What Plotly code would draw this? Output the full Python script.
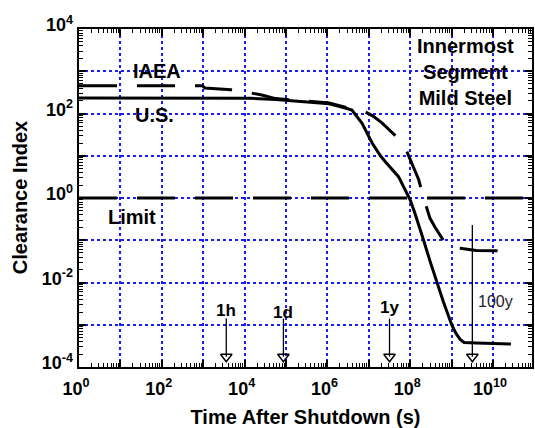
import numpy as np
import plotly.graph_objects as go

# ---------------- data ----------------
us_t = [1, 1.3e4, 5.6e4, 3.5e5, 1.1e6, 2.7e6, 3.9e6, 6.8e6, 1.2e7, 1.9e7, 2.5e7,
        5.2e7, 7.6e7, 1.0e8, 1.26e8, 1.6e8, 2.1e8, 3.0e8, 4.4e8, 6.3e8, 1.0e9,
        1.26e9, 1.6e9, 2.0e9, 4.0e9, 2.7e10]
us_v = [233, 229, 214, 190, 170, 135, 120, 59, 20, 10, 7.2,
        3.2, 1.55, 0.89, 0.47, 0.24, 0.10, 0.032, 0.010, 0.0035, 1.0e-3,
        6.3e-4, 4.5e-4, 3.8e-4, 3.7e-4, 3.5e-4]

iaea_t = [1, 9.5e2, 1.1e3, 4.7e3, 1.0e4, 2.6e4, 5.6e4, 3.5e5, 1.1e6, 2.7e6, 4.0e6,
          5.6e6, 8.1e6, 1.26e7, 2.1e7, 3.5e7, 5.8e7, 7.9e7, 1.0e8, 1.26e8, 1.6e8,
          2.1e8, 3.0e8, 4.0e8, 5.2e8, 7.1e8, 8.3e8, 1.1e9, 1.6e9, 3.9e9, 2.7e10]
iaea_v = [455, 455, 400, 365, 325, 275, 225, 197, 178, 141, 132,
          123, 110, 87, 59, 37, 23, 14, 7.9, 4.7, 2.7,
          1.0, 0.33, 0.20, 0.13, 0.083, 0.071, 0.066, 0.065, 0.057, 0.056]

limit_t = [1, 8.7e10]
limit_v = [1, 1]

event_labels = ["1h", "1d", "1y", "100y"]
event_t = [3600, 86400, 3.156e7, 3.156e9]
event_top = [1.4e-3, 1.4e-3, 1.4e-3, 0.23]
event_bottom = 1.75e-4

x_decades = list(range(0, 11))
y_decades = list(range(-4, 5))
x_label_decades = [k for k in x_decades if k % 2 == 0]
y_label_decades = [k for k in y_decades if k % 2 == 0]

FONT = "Liberation Sans, Arial, sans-serif"
GRID = "#1a1aff"
XR = [0, 10.94]
YR = [-4, 4]

fig = go.Figure()

fig.add_trace(go.Scatter(x=limit_t, y=limit_v, mode="lines",
                         line=dict(color="black", width=3, dash="38px,20px")))
fig.add_trace(go.Scatter(x=iaea_t, y=iaea_v, mode="lines",
                         line=dict(color="black", width=3, dash="38px,20px")))
fig.add_trace(go.Scatter(x=us_t, y=us_v, mode="lines",
                         line=dict(color="black", width=3)))

for lab, t, top in zip(event_labels, event_t, event_top):
    fig.add_trace(go.Scatter(x=[t, t], y=[top, event_bottom], mode="lines",
                             line=dict(color="black", width=1.3)))
    fig.add_trace(go.Scatter(x=[t], y=[event_bottom], mode="markers",
                             marker=dict(symbol="triangle-down-open", size=10,
                                         color="black", line=dict(width=1.5))))

# invisible trace that carries the labelled (overlay) axes
fig.add_trace(go.Scatter(x=[10], y=[1], xaxis="x2", yaxis="y2", mode="markers",
                         marker=dict(opacity=0), hoverinfo="skip"))

# event labels
lab_y = {"1h": -2.67, "1d": -2.72, "1y": -2.60}
for lab, t in zip(event_labels, event_t):
    if lab == "100y":
        fig.add_annotation(x=9.59, y=-2.46, text=lab, showarrow=False, xanchor="left",
                           font=dict(family=FONT, size=16, color="#222"))
    else:
        fig.add_annotation(x=np.log10(t), y=lab_y[lab], text=lab, showarrow=False,
                           font=dict(family=FONT, size=17, color="black", weight="bold"))

# series labels
for txt, lx, ly in [("IAEA", 1.875, 3.0), ("U.S.", 1.83, 1.96), ("Limit", 1.27, -0.45)]:
    fig.add_annotation(x=lx, y=ly, text=txt, showarrow=False,
                       font=dict(family=FONT, size=20, color="black", weight="bold"))
fig.add_annotation(x=9.33, y=2.98, text="Innermost<br>Segment<br>Mild Steel", showarrow=False,
                   align="center", font=dict(family=FONT, size=20, color="black", weight="bold"))

titlefont = dict(family=FONT, size=20, color="black", weight="bold")
fig.add_annotation(xref="paper", yref="paper", x=-0.1297, y=0.5, text="Clearance Index",
                   textangle=-90, showarrow=False, xanchor="center", yanchor="middle",
                   font=titlefont)

x_minor = [m * 10.0 ** k for k in range(0, 11) for m in range(2, 10)]
y_minor = [m * 10.0 ** k for k in range(-4, 4) for m in range(2, 10)]

common = dict(ticks="inside", ticklen=7, tickwidth=2, tickcolor="black",
              showline=True, linecolor="black", linewidth=2, mirror="allticks",
              showgrid=True, gridcolor=GRID, gridwidth=1.5, griddash="dot",
              showticklabels=False, zeroline=False)

tickfont = dict(family=FONT, size=18, color="black", weight="bold")

fig.update_layout(
    xaxis=dict(type="log", range=XR, tickvals=[10.0 ** k for k in x_decades],
               minor=dict(tickvals=x_minor, ticks="inside", ticklen=4, tickwidth=1.2,
                          tickcolor="black", showgrid=False),
               **common),
    yaxis=dict(type="log", range=YR, tickvals=[10.0 ** k for k in y_decades],
               minor=dict(tickvals=y_minor, ticks="inside", ticklen=4, tickwidth=1.2,
                          tickcolor="black", showgrid=False),
               **common),
    xaxis2=dict(type="log", range=XR, overlaying="x", side="bottom", anchor="y2",
                tickvals=[10.0 ** k for k in x_label_decades],
                ticktext=[f"10<sup>{k}</sup>" for k in x_label_decades],
                ticks="", showgrid=False, showline=False, zeroline=False,
                tickfont=tickfont, ticklabelstandoff=9, ticklabelshift=-3,
                title=dict(text="Time After Shutdown (s)", standoff=14, font=titlefont)),
    yaxis2=dict(type="log", range=YR, overlaying="y", side="left", anchor="x2",
                tickvals=[10.0 ** k for k in y_label_decades],
                ticktext=[f"10<sup>{k}</sup>" for k in y_label_decades],
                ticks="", showgrid=False, showline=False, zeroline=False,
                tickfont=tickfont, ticklabelstandoff=5, ticklabelshift=-4),
    width=535, height=428,
    margin=dict(l=79, r=1, t=29, b=61),
    plot_bgcolor="white", paper_bgcolor="white",
    showlegend=False,
)

fig.write_html("out.html")
